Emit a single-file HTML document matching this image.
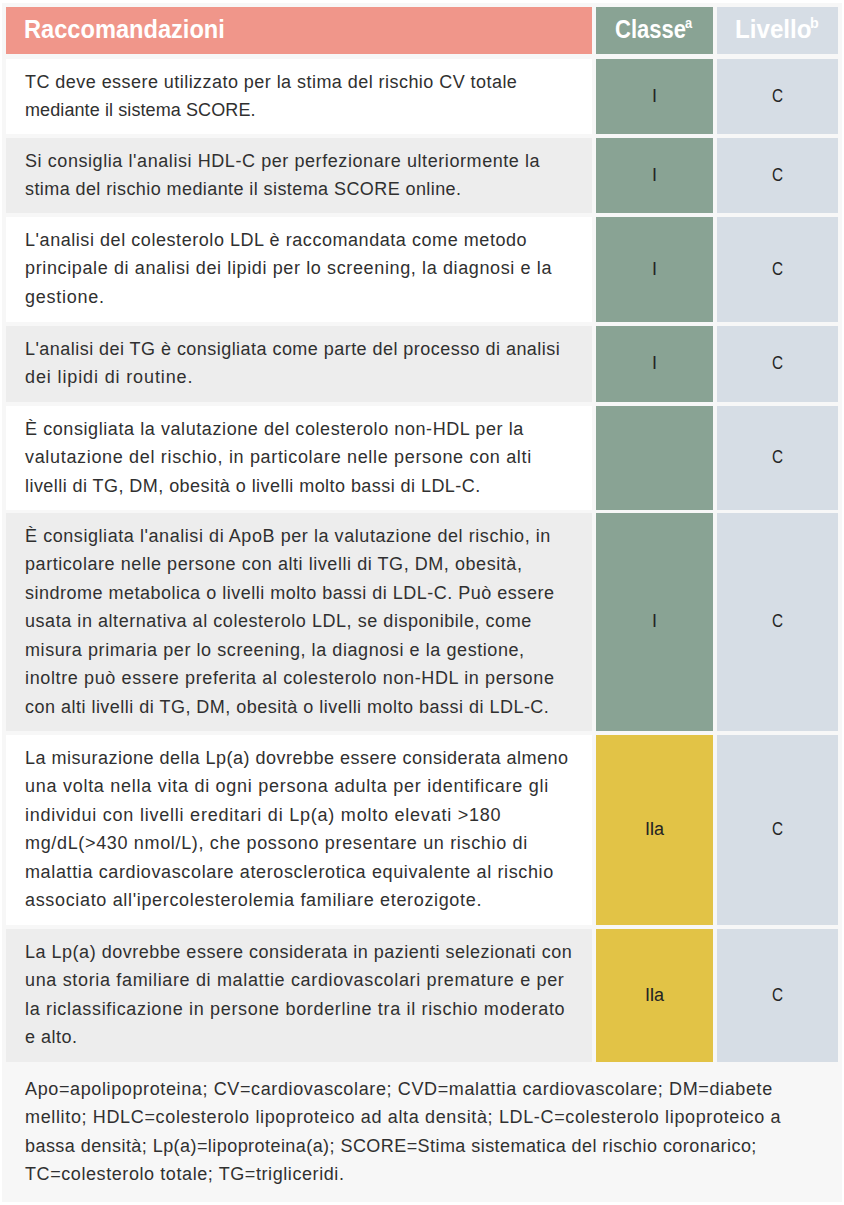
<!DOCTYPE html><html><head><meta charset="utf-8"><style>
*{margin:0;padding:0;box-sizing:border-box}
html,body{width:844px;height:1205px;background:#ffffff;overflow:hidden}
body{position:relative;font-family:"Liberation Sans", sans-serif;color:#303030;font-size:18px}
.c{position:absolute}
.ln{position:absolute;left:25px;white-space:nowrap;line-height:28.44px;height:28.44px}
.ctr{position:absolute;white-space:nowrap;text-align:center;line-height:28.44px;color:#242424}
.hd{position:absolute;white-space:nowrap;color:#fff;font-weight:bold;font-size:25px;line-height:30px}
.sup{position:absolute;white-space:nowrap;color:#fff;font-weight:bold;font-size:15px;line-height:20px}
</style></head><body>
<div class="c" style="left:2px;top:3px;width:840px;height:1199px;background:#f7f7f7"></div>

<div class="c" style="left:6px;top:7px;width:586px;height:47px;background:#f0968a"></div>
<div class="c" style="left:596px;top:7px;width:117px;height:47px;background:#89a394"></div>
<div class="c" style="left:717px;top:7px;width:121px;height:47px;background:#d6dde5"></div>
<div class="hd" style="left:24px;top:14px;transform:scaleX(0.945);transform-origin:0 0">Raccomandazioni</div>
<div class="hd" style="left:615px;top:14px;transform:scaleX(0.88);transform-origin:0 0">Classe</div>
<div class="hd" style="left:734.7px;top:14px;transform:scaleX(0.967);transform-origin:0 0">Livello</div>
<div class="sup" style="left:685.3px;top:13.2px;transform:scaleX(0.86);transform-origin:0 0">a</div>
<div class="sup" style="left:810.3px;top:12.6px;transform:scaleX(0.95);transform-origin:0 0">b</div>
<div class="c" style="left:6px;top:59px;width:586px;height:75px;background:#ffffff"></div>
<div class="c" style="left:596px;top:59px;width:117px;height:75px;background:#89a394"></div>
<div class="c" style="left:717px;top:59px;width:121px;height:75px;background:#d6dde5"></div>
<div class="ln" style="top:67.94px;letter-spacing:0.452px">TC deve essere utilizzato per la stima del rischio CV totale</div>
<div class="ln" style="top:96.38px;letter-spacing:0.097px">mediante il sistema SCORE.</div>
<div class="ctr" style="left:596px;width:117px;top:81.94px;">I</div>
<div class="ctr" style="left:717px;width:121px;top:81.94px"><span style="display:inline-block;transform:scaleX(0.85)">C</span></div>
<div class="c" style="left:6px;top:138px;width:586px;height:75px;background:#ededed"></div>
<div class="c" style="left:596px;top:138px;width:117px;height:75px;background:#89a394"></div>
<div class="c" style="left:717px;top:138px;width:121px;height:75px;background:#d6dde5"></div>
<div class="ln" style="top:146.94px;letter-spacing:0.573px">Si consiglia l'analisi HDL-C per perfezionare ulteriormente la</div>
<div class="ln" style="top:175.38px;letter-spacing:0.417px">stima del rischio mediante il sistema SCORE online.</div>
<div class="ctr" style="left:596px;width:117px;top:160.94px;">I</div>
<div class="ctr" style="left:717px;width:121px;top:160.94px"><span style="display:inline-block;transform:scaleX(0.85)">C</span></div>
<div class="c" style="left:6px;top:217px;width:586px;height:105px;background:#ffffff"></div>
<div class="c" style="left:596px;top:217px;width:117px;height:105px;background:#89a394"></div>
<div class="c" style="left:717px;top:217px;width:121px;height:105px;background:#d6dde5"></div>
<div class="ln" style="top:225.94px;letter-spacing:0.556px">L'analisi del colesterolo LDL è raccomandata come metodo</div>
<div class="ln" style="top:254.38px;letter-spacing:0.624px">principale di analisi dei lipidi per lo screening, la diagnosi e la</div>
<div class="ln" style="top:282.82px;letter-spacing:0.730px">gestione.</div>
<div class="ctr" style="left:596px;width:117px;top:254.94px;">I</div>
<div class="ctr" style="left:717px;width:121px;top:254.94px"><span style="display:inline-block;transform:scaleX(0.85)">C</span></div>
<div class="c" style="left:6px;top:326px;width:586px;height:76px;background:#ededed"></div>
<div class="c" style="left:596px;top:326px;width:117px;height:76px;background:#89a394"></div>
<div class="c" style="left:717px;top:326px;width:121px;height:76px;background:#d6dde5"></div>
<div class="ln" style="top:334.94px;letter-spacing:0.458px">L'analisi dei TG è consigliata come parte del processo di analisi</div>
<div class="ln" style="top:363.38px;letter-spacing:0.872px">dei lipidi di routine.</div>
<div class="ctr" style="left:596px;width:117px;top:349.44px;">I</div>
<div class="ctr" style="left:717px;width:121px;top:349.44px"><span style="display:inline-block;transform:scaleX(0.85)">C</span></div>
<div class="c" style="left:6px;top:406px;width:586px;height:104px;background:#ffffff"></div>
<div class="c" style="left:596px;top:406px;width:117px;height:104px;background:#89a394"></div>
<div class="c" style="left:717px;top:406px;width:121px;height:104px;background:#d6dde5"></div>
<div class="ln" style="top:414.94px;letter-spacing:0.581px">È consigliata la valutazione del colesterolo non-HDL per la</div>
<div class="ln" style="top:443.38px;letter-spacing:0.671px">valutazione del rischio, in particolare nelle persone con alti</div>
<div class="ln" style="top:471.82px;letter-spacing:0.445px">livelli di TG, DM, obesità o livelli molto bassi di LDL-C.</div>
<div class="ctr" style="left:717px;width:121px;top:443.44px"><span style="display:inline-block;transform:scaleX(0.85)">C</span></div>
<div class="c" style="left:6px;top:513px;width:586px;height:218px;background:#ededed"></div>
<div class="c" style="left:596px;top:513px;width:117px;height:218px;background:#89a394"></div>
<div class="c" style="left:717px;top:513px;width:121px;height:218px;background:#d6dde5"></div>
<div class="ln" style="top:521.94px;letter-spacing:0.564px">È consigliata l'analisi di ApoB per la valutazione del rischio, in</div>
<div class="ln" style="top:550.38px;letter-spacing:0.558px">particolare nelle persone con alti livelli di TG, DM, obesità,</div>
<div class="ln" style="top:578.82px;letter-spacing:0.503px">sindrome metabolica o livelli molto bassi di LDL-C. Può essere</div>
<div class="ln" style="top:607.26px;letter-spacing:0.549px">usata in alternativa al colesterolo LDL, se disponibile, come</div>
<div class="ln" style="top:635.70px;letter-spacing:0.574px">misura primaria per lo screening, la diagnosi e la gestione,</div>
<div class="ln" style="top:664.14px;letter-spacing:0.628px">inoltre può essere preferita al colesterolo non-HDL in persone</div>
<div class="ln" style="top:692.58px;letter-spacing:0.485px">con alti livelli di TG, DM, obesità o livelli molto bassi di LDL-C.</div>
<div class="ctr" style="left:596px;width:117px;top:607.44px;">I</div>
<div class="ctr" style="left:717px;width:121px;top:607.44px"><span style="display:inline-block;transform:scaleX(0.85)">C</span></div>
<div class="c" style="left:6px;top:735px;width:586px;height:190px;background:#ffffff"></div>
<div class="c" style="left:596px;top:735px;width:117px;height:190px;background:#e2c346"></div>
<div class="c" style="left:717px;top:735px;width:121px;height:190px;background:#d6dde5"></div>
<div class="ln" style="top:743.94px;letter-spacing:0.496px">La misurazione della Lp(a) dovrebbe essere considerata almeno</div>
<div class="ln" style="top:772.38px;letter-spacing:0.728px">una volta nella vita di ogni persona adulta per identificare gli</div>
<div class="ln" style="top:800.82px;letter-spacing:0.774px">individui con livelli ereditari di Lp(a) molto elevati &gt;180</div>
<div class="ln" style="top:829.26px;letter-spacing:0.662px">mg/dL(&gt;430 nmol/L), che possono presentare un rischio di</div>
<div class="ln" style="top:857.70px;letter-spacing:0.628px">malattia cardiovascolare aterosclerotica equivalente al rischio</div>
<div class="ln" style="top:886.14px;letter-spacing:0.662px">associato all'ipercolesterolemia familiare eterozigote.</div>
<div class="ctr" style="left:596px;width:117px;top:815.44px;letter-spacing:-0.6px;text-indent:-0.6px;">IIa</div>
<div class="ctr" style="left:717px;width:121px;top:815.44px"><span style="display:inline-block;transform:scaleX(0.85)">C</span></div>
<div class="c" style="left:6px;top:929px;width:586px;height:133px;background:#ededed"></div>
<div class="c" style="left:596px;top:929px;width:117px;height:133px;background:#e2c346"></div>
<div class="c" style="left:717px;top:929px;width:121px;height:133px;background:#d6dde5"></div>
<div class="ln" style="top:937.94px;letter-spacing:0.514px">La Lp(a) dovrebbe essere considerata in pazienti selezionati con</div>
<div class="ln" style="top:966.38px;letter-spacing:0.661px">una storia familiare di malattie cardiovascolari premature e per</div>
<div class="ln" style="top:994.82px;letter-spacing:0.667px">la riclassificazione in persone borderline tra il rischio moderato</div>
<div class="ln" style="top:1023.26px;letter-spacing:0.509px">e alto.</div>
<div class="ctr" style="left:596px;width:117px;top:980.94px;letter-spacing:-0.6px;text-indent:-0.6px;">IIa</div>
<div class="ctr" style="left:717px;width:121px;top:980.94px"><span style="display:inline-block;transform:scaleX(0.85)">C</span></div>
<div class="ln" style="top:1074.74px;letter-spacing:0.623px">Apo=apolipoproteina; CV=cardiovascolare; CVD=malattia cardiovascolare; DM=diabete</div>
<div class="ln" style="top:1103.18px;letter-spacing:0.646px">mellito; HDLC=colesterolo lipoproteico ad alta densità; LDL-C=colesterolo lipoproteico a</div>
<div class="ln" style="top:1131.62px;letter-spacing:0.441px">bassa densità; Lp(a)=lipoproteina(a); SCORE=Stima sistematica del rischio coronarico;</div>
<div class="ln" style="top:1160.06px;letter-spacing:0.582px">TC=colesterolo totale; TG=trigliceridi.</div>
</body></html>
